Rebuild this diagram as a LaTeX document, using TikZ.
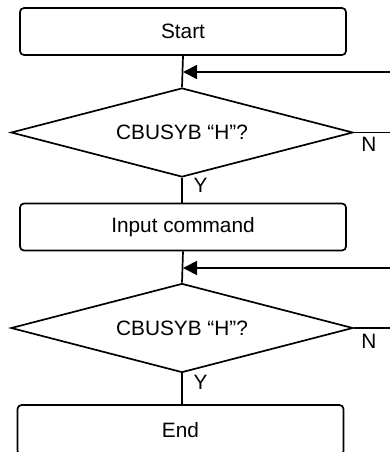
\documentclass[tikz,border=0pt]{standalone}
\usepackage{fontspec}
\setmainfont{Liberation Sans}
\usetikzlibrary{shapes.geometric,arrows.meta}
\begin{document}
\begin{tikzpicture}[x=1pt,y=-1pt,
  every node/.style={font=\fontsize{20.8}{25}\selectfont},
  proc/.style={draw,line width=1.7pt,rounded corners=4pt,minimum width=326pt,minimum height=47pt,inner sep=0pt},
  decide/.style={draw,line width=1.7pt,diamond,aspect=3.8,minimum width=342pt,minimum height=89pt,inner sep=0pt},
  conn/.style={line width=1.7pt},
  arr/.style={line width=1.7pt,-{Triangle[length=14pt,width=14pt]}},
  lbl/.style={inner sep=0pt}]
\useasboundingbox (0,0) rectangle (390,452);
\clip (0,0) rectangle (390,452);
\node[proc] (start) at (183,31.5) {Start};
\node[decide] (d1) at (182,132.5) {CBUSYB “H”?};
\node[proc] (input) at (183,227) {Input command};
\node[decide] (d2) at (182,328) {CBUSYB “H”?};
\node[proc,minimum height=50pt] (end) at (180.5,430) {End};
\coordinate (j1) at (183,72);
\coordinate (r1) at (392,72);
\coordinate (n1) at (392,132.5);
\coordinate (j2) at (183,268);
\coordinate (r2) at (392,268);
\coordinate (n2) at (392,328);
\draw[conn] (start.south -| j1) -- (d1.north);
\draw[arr] (r1) -- (j1);
\draw[conn] (d1.east) -- (n1);
\draw[conn] (d1.south) -- (d1.south |- input.north);
\draw[conn] (input.south -| j2) -- (d2.north);
\draw[arr] (r2) -- (j2);
\draw[conn] (d2.east) -- (n2);
\draw[conn] (d2.south) -- (d2.south |- end.north);
\node[lbl] (ny1) at (369,144.5) {N};
\node[lbl] (yy1) at (200.5,185.5) {Y};
\node[lbl] (ny2) at (369,341) {N};
\node[lbl] (yy2) at (200.5,382) {Y};
\end{tikzpicture}
\end{document}
